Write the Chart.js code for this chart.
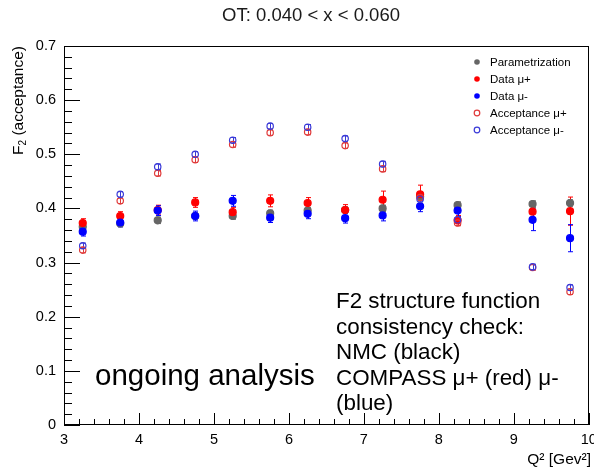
<!DOCTYPE html>
<html><head><meta charset="utf-8">
<script src="https://cdn.jsdelivr.net/npm/chart.js@4/dist/chart.umd.min.js"></script>
<style>html,body{margin:0;padding:0;background:#fff;} canvas{display:block;}</style>
</head><body>
<canvas id="c" width="594" height="470"></canvas>
<script>
// ---- data ----
const q2 = [3.25, 3.75, 4.25, 4.75, 5.25, 5.75, 6.25, 6.75, 7.25, 7.75, 8.25, 9.25, 9.75];
const paramF2       = [0.366, 0.372, 0.378, 0.386, 0.386, 0.391, 0.396, 0.397, 0.400, 0.422, 0.406, 0.408, 0.410];
const paramErr      = [0.006, 0.006, 0.006, 0.006, 0.006, 0.006, 0.006, 0.006, 0.006, 0.006, 0.006, 0.006, 0.006];
const dataMuPlus    = [0.373, 0.386, 0.397, 0.411, 0.393, 0.414, 0.410, 0.397, 0.416, 0.426, 0.378, 0.394, 0.395];
const dataMuPlusErr = [0.008, 0.008, 0.009, 0.009, 0.009, 0.011, 0.010, 0.010, 0.016, 0.017, 0.009, 0.012, 0.026];
const dataMuMinus   = [0.357, 0.374, 0.396, 0.386, 0.414, 0.383, 0.390, 0.382, 0.387, 0.404, 0.396, 0.379, 0.345];
const dataMuMinusErr= [0.008, 0.008, 0.009, 0.009, 0.010, 0.009, 0.009, 0.009, 0.010, 0.010, 0.011, 0.020, 0.025];
const accMuPlus     = [0.323, 0.414, 0.465, 0.490, 0.518, 0.540, 0.541, 0.516, 0.473, 0.420, 0.373, 0.291, 0.246];
const accMuMinus    = [0.331, 0.426, 0.477, 0.500, 0.526, 0.552, 0.550, 0.529, 0.482, 0.417, 0.379, 0.292, 0.254];
const accErr        = [0.005, 0.005, 0.005, 0.005, 0.005, 0.005, 0.005, 0.005, 0.005, 0.005, 0.005, 0.005, 0.005];
const yTicks = [0, 0.1, 0.2, 0.3, 0.4, 0.5, 0.6, 0.7];
const xTicks = [3, 4, 5, 6, 7, 8, 9, 10];
const titleText = 'OT: 0.040 < x < 0.060';
const noteLines = ['F2 structure function', 'consistency check:', 'NMC (black)', 'COMPASS \u03bc+ (red) \u03bc-', '(blue)'];
const ongoingText = 'ongoing analysis';

const FONT = "'Liberation Sans', Arial, Helvetica, sans-serif";
const pts = arr => q2.map((x, i) => ({x: x, y: arr[i]}));

const datasets = [
  {label: 'Parametrization', data: pts(paramF2), errors: paramErr, backgroundColor: '#666666', borderColor: '#666666', open: false, order: 5},
  {label: 'Data \u03bc+', data: pts(dataMuPlus), errors: dataMuPlusErr, backgroundColor: '#ff0000', borderColor: '#ff0000', open: false, order: 4},
  {label: 'Data \u03bc-', data: pts(dataMuMinus), errors: dataMuMinusErr, backgroundColor: '#0000ff', borderColor: '#0000ff', open: false, order: 3},
  {label: 'Acceptance \u03bc+', data: pts(accMuPlus), errors: accErr, backgroundColor: 'rgba(0,0,0,0)', borderColor: '#e03a3a', open: true, order: 2},
  {label: 'Acceptance \u03bc-', data: pts(accMuMinus), errors: accErr, backgroundColor: 'rgba(0,0,0,0)', borderColor: '#3a3ad8', open: true, order: 1}
].map(d => Object.assign(d, {pointRadius: d.open ? 3.2 : 3.5, pointBorderWidth: 1.2, pointStyle: 'circle', showLine: false}));

const errorBars = {
  id: 'errorBars',
  beforeDatasetsDraw(chart) {
    const ctx = chart.ctx, xs = chart.scales.x, ys = chart.scales.y;
    chart.data.datasets.slice().sort((a, b) => b.order - a.order).forEach(ds => {
      ctx.save();
      ctx.strokeStyle = ds.borderColor;
      ctx.lineWidth = 1;
      ds.data.forEach((p, j) => {
        const e = ds.errors[j];
        const x = Math.round(xs.getPixelForValue(p.x)) + 0.5;
        const y1 = ys.getPixelForValue(p.y - e), y2 = ys.getPixelForValue(p.y + e);
        ctx.beginPath();
        ctx.moveTo(x, y1); ctx.lineTo(x, y2);
        ctx.moveTo(x - 2.5, y1); ctx.lineTo(x + 2.5, y1);
        ctx.moveTo(x - 2.5, y2); ctx.lineTo(x + 2.5, y2);
        ctx.stroke();
      });
      ctx.restore();
    });
  }
};

const frameAndText = {
  id: 'frameAndText',
  afterDraw(chart) {
    const ctx = chart.ctx, a = chart.chartArea, xs = chart.scales.x, ys = chart.scales.y;
    ctx.save();
    // frame
    ctx.strokeStyle = '#000';
    ctx.lineWidth = 1;
    ctx.strokeRect(Math.round(a.left) + 0.5, Math.round(a.top) + 0.5, Math.round(a.right - a.left) - 1, Math.round(a.bottom - a.top) - 1);
    // inside ticks, y axis (0.02 spacing, major every 0.1)
    ctx.beginPath();
    for (let i = 0; i <= 35; i++) {
      const y = Math.round(ys.getPixelForValue(i * 0.02)) + 0.5;
      const len = (i % 5 === 0) ? 16 : 8;
      ctx.moveTo(a.left, y); ctx.lineTo(a.left + len, y);
    }
    // inside ticks, x axis (0.2 spacing, major every 1)
    for (let i = 0; i <= 35; i++) {
      const x = Math.round(xs.getPixelForValue(3 + i * 0.2)) + 0.5;
      const len = (i % 5 === 0) ? 12 : 6;
      ctx.moveTo(x, a.bottom); ctx.lineTo(x, a.bottom - len);
    }
    ctx.stroke();

    // title
    ctx.fillStyle = '#1a1a1a';
    ctx.font = '18.5px ' + FONT;
    ctx.textAlign = 'center';
    ctx.textBaseline = 'alphabetic';
    ctx.fillText(titleText, 311, 21);

    // x axis title  Q² [Gev²]
    ctx.fillStyle = '#000';
    ctx.font = '15.5px ' + FONT;
    ctx.textAlign = 'right';
    ctx.fillText('Q\u00b2 [Gev\u00b2]', 591, 464);

    // y axis title F2 (acceptance), rotated
    ctx.save();
    ctx.translate(23, 46);
    ctx.rotate(-Math.PI / 2);
    ctx.textAlign = 'left';
    ctx.font = '15.5px ' + FONT;
    const wF = ctx.measureText('F').width;
    const wRest = ctx.measureText(' (acceptance)').width;
    ctx.font = '10px ' + FONT;
    const w2 = ctx.measureText('2').width;
    const total = wF + w2 + wRest;
    const x0 = -total;
    ctx.font = '15.5px ' + FONT;
    ctx.fillText('F', x0, 0);
    ctx.font = '10px ' + FONT;
    ctx.fillText('2', x0 + wF, 3);
    ctx.font = '15.5px ' + FONT;
    ctx.fillText(' (acceptance)', x0 + wF + w2, 0);
    ctx.restore();

    // legend
    ctx.font = '11.5px ' + FONT;
    ctx.textAlign = 'left';
    ctx.textBaseline = 'middle';
    chart.data.datasets.forEach((ds, i) => {
      const y = 62 + i * 17;
      ctx.beginPath();
      ctx.arc(477, y, 2.8, 0, Math.PI * 2);
      if (ds.open) { ctx.strokeStyle = ds.borderColor; ctx.lineWidth = 1.2; ctx.stroke(); }
      else { ctx.fillStyle = ds.backgroundColor; ctx.fill(); }
      ctx.fillStyle = '#000';
      ctx.fillText(ds.label, 490, y + 0.5);
    });

    // annotations
    ctx.textBaseline = 'alphabetic';
    ctx.fillStyle = '#000';
    ctx.font = '29.5px ' + FONT;
    ctx.fillText(ongoingText, 95, 385);
    ctx.font = '22.4px ' + FONT;
    noteLines.forEach((t, i) => ctx.fillText(t, 336, 308 + i * 25.5));
    ctx.restore();
  }
};

new Chart(document.getElementById('c'), {
  type: 'scatter',
  data: {datasets: datasets},
  options: {
    responsive: false,
    devicePixelRatio: 1,
    animation: false,
    events: [],
    layout: {padding: {top: 46, right: 2, left: 0, bottom: 0}},
    plugins: {legend: {display: false}, tooltip: {enabled: false}, title: {display: false}},
    scales: {
      x: {
        type: 'linear', min: 3, max: 10, position: 'bottom',
        afterFit(s) { s.height = 45; s.paddingLeft = 0; s.paddingRight = 0; },
        afterBuildTicks(s) { s.ticks = xTicks.map(v => ({value: v})); },
        grid: {display: false, drawTicks: false},
        border: {display: false},
        ticks: {autoSkip: false, maxRotation: 0, padding: 6, color: '#000', font: {family: FONT, size: 14.5},
                callback: v => String(v)}
      },
      y: {
        type: 'linear', min: 0, max: 0.7, position: 'left',
        afterFit(s) { s.width = 64; s.paddingTop = 0; s.paddingBottom = 0; },
        afterBuildTicks(s) { s.ticks = yTicks.map(v => ({value: v})); },
        grid: {display: false, drawTicks: false},
        border: {display: false},
        ticks: {autoSkip: false, padding: 8, color: '#000', font: {family: FONT, size: 14.5},
                callback: v => (v === 0 ? '0' : v.toFixed(1))}
      }
    }
  },
  plugins: [errorBars, frameAndText]
});
</script>
</body></html>
